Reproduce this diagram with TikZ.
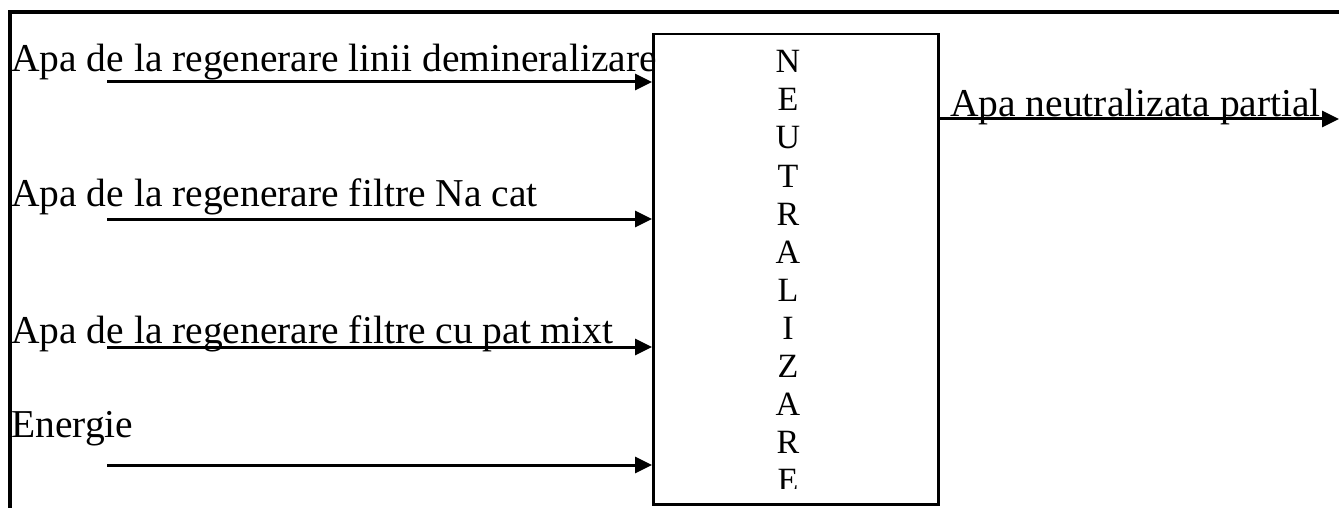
\documentclass[tikz,border=0pt]{standalone}
\usepackage{fontspec}
\setmainfont{Liberation Serif}
\usetikzlibrary{arrows.meta}
\begin{document}
\begin{tikzpicture}[x=1pt,y=-1pt,
  lbl/.style={anchor=base west, inner sep=0pt, font=\fontsize{39.5}{39.5}\selectfont},
  letter/.style={anchor=base, inner sep=0pt, font=\fontsize{34}{34}\selectfont},
  flow/.style={line width=3pt, -{Triangle[length=17pt,width=16pt]}},
  ]
\useasboundingbox (0,0) rectangle (1339,508);
% outer frame (top and left edges)
\draw[line width=3.5pt] (10,508) -- (10,12) -- (1339,12);
% process block
\node[draw, line width=2.5pt, minimum width=285pt, minimum height=470pt,
      anchor=north west, inner sep=0pt] (box) at (652,33) {};
% vertical title, last letter cut by the block
\begin{scope}
  \clip (652,33) rectangle (937,488);
  \foreach \ch [count=\i from 0] in {N,E,U,T,R,A,L,I,Z,A,R,E}
    \node[letter] (l\i) at (788,{73+38*\i}) {\ch};
\end{scope}
% input labels
\node[lbl] (t1) at (11,72)  {Apa de la regenerare linii demineralizare};
\node[lbl] (t2) at (11,207) {Apa de la regenerare filtre Na cat};
\node[lbl] (t3) at (11,343) {Apa de la regenerare filtre cu pat mixt};
\node[lbl] (t4) at (11,437) {Energie};
% output label
\node[lbl] (t5) at (950,117) {Apa neutralizata partial};
% input flows
\coordinate (s1) at (107,82);
\coordinate (s2) at (107,219);
\coordinate (s3) at (107,347);
\coordinate (s4) at (107,465);
\foreach \s in {s1,s2,s3,s4}
  \draw[flow] (\s) -- (\s -| box.west);
% output flow
\coordinate (o) at (1339,119);
\draw[flow] (o -| box.east) -- (o);
\end{tikzpicture}
\end{document}
